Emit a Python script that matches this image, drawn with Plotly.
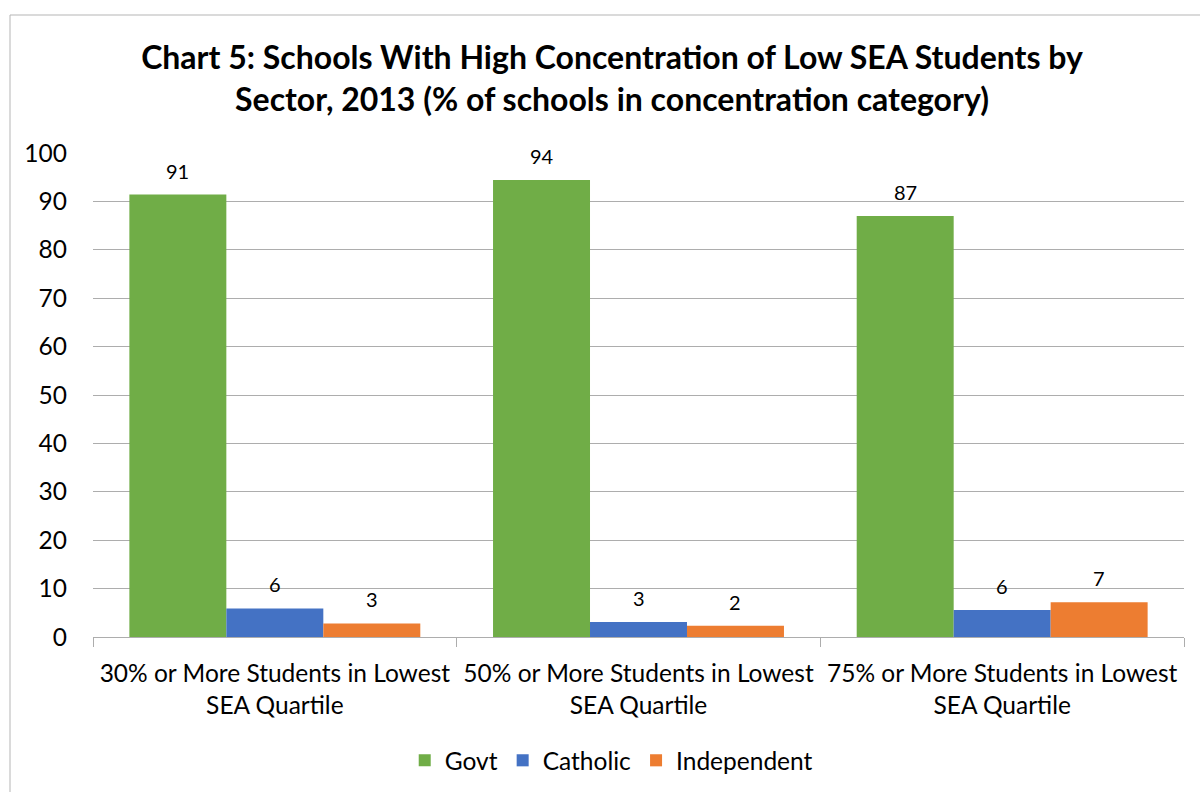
import plotly.graph_objects as go

# Categories and series values (% of schools in each concentration category)
categories = [
    "30% or More Students in Lowest<br>SEA Quartile",
    "50% or More Students in Lowest<br>SEA Quartile",
    "75% or More Students in Lowest<br>SEA Quartile",
]
sectors = ["Govt", "Catholic", "Independent"]
govt = [91.4, 94.4, 87.0]
catholic = [5.9, 3.1, 5.6]
independent = [2.8, 2.3, 7.2]
y_ticks = [0, 10, 20, 30, 40, 50, 60, 70, 80, 90, 100]

series = [govt, catholic, independent]
colors = ["#70AD47", "#4472C4", "#ED7D31"]

W, H = 1200, 792
ML, MR, MT, MB = 93, 16, 153, 155
BARGAP = 0.2
FONT = "Lato"
TXT = "#000000"
GRID = "#ADADAD"
AX_SIZE = 24.5

fig = go.Figure()
for name, vals, col in zip(sectors, series, colors):
    fig.add_trace(go.Bar(x=categories, y=vals, name=name, marker_color=col,
                         marker_line_width=0))

# value labels above each bar, offset to its slot in the group
plot_w = W - ML - MR
cat_w = plot_w / len(categories)
bar_px = cat_w * (1 - BARGAP) / len(series)
annotations = []
for j, vals in enumerate(series):
    for cat, v in zip(categories, vals):
        annotations.append(dict(
            x=cat, y=v, xref="x", yref="y", text=f"{v:.0f}", showarrow=False,
            xshift=(j - (len(series) - 1) / 2) * bar_px, yshift=24,
            yanchor="middle", font=dict(family=FONT, size=20, color=TXT)))

# chart frame
shapes = [dict(type="rect", xref="paper", yref="paper",
               x0=(10 - ML) / plot_w, x1=1.2,
               y0=-0.6, y1=(H - MB - 15) / (H - MT - MB),
               line=dict(color="#B5B5B5", width=1), fillcolor="rgba(0,0,0,0)",
               layer="below")]

fig.update_layout(
    width=W, height=H,
    margin=dict(l=ML, r=MR, t=MT, b=MB, autoexpand=False),
    paper_bgcolor="white", plot_bgcolor="white",
    barmode="group", bargap=BARGAP, bargroupgap=0,
    title=dict(
        text="<b>Chart 5: Schools With High Concentration of Low SEA Students by<br>"
             "Sector, 2013 (% of schools in concentration category)</b>",
        x=0.51, xanchor="center", y=1 - 69 / H, yanchor="middle",
        font=dict(family=FONT, size=32, color=TXT)),
    font=dict(family=FONT, color=TXT),
    xaxis=dict(
        type="category", showgrid=False, showline=True, linecolor=GRID, linewidth=1,
        ticks="outside", tickson="boundaries", ticklen=9, tickcolor=GRID,
        ticklabelstandoff=15, automargin=False,
        tickfont=dict(family=FONT, size=AX_SIZE, color=TXT)),
    yaxis=dict(
        range=[0, 100], tickvals=y_ticks, showgrid=True, gridcolor=GRID, gridwidth=1,
        zeroline=False, showline=False, ticks="", ticklabelstandoff=25, automargin=False,
        tickfont=dict(family=FONT, size=AX_SIZE, color=TXT)),
    legend=dict(orientation="h", x=0.475, xanchor="center", y=-0.255, yanchor="middle",
                font=dict(family=FONT, size=AX_SIZE, color=TXT)),
    annotations=annotations,
    shapes=shapes,
)

fig.write_html("out.html")
